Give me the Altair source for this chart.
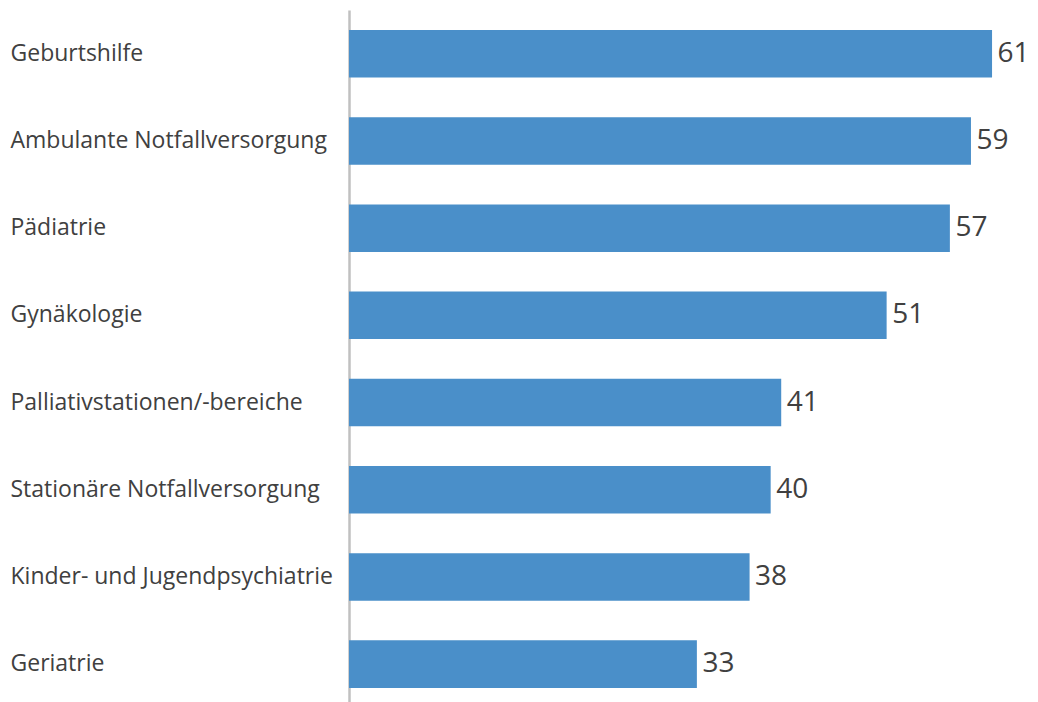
import altair as alt
import pandas as pd

categories = [
    "Geburtshilfe",
    "Ambulante Notfallversorgung",
    "Pädiatrie",
    "Gynäkologie",
    "Palliativstationen/-bereiche",
    "Stationäre Notfallversorgung",
    "Kinder- und Jugendpsychiatrie",
    "Geriatrie",
]
values = [61, 59, 57, 51, 41, 40, 38, 33]

df = pd.DataFrame({"cat": categories, "val": values})

FONT = "Open Sans"
TEXT = "#404040"

y = alt.Y(
    "cat:N",
    sort=categories,
    scale=alt.Scale(paddingInner=0.455, paddingOuter=0.2415, align=0.475),
    axis=alt.Axis(
        title=None,
        ticks=False,
        tickSize=0,
        labelAlign="left",
        labelPadding=339,
        labelFont=FONT,
        labelFontSize=23,
        labelColor=TEXT,
        domainColor="#c0c0c0",
        domainWidth=2.5,
        labelLimit=400,
    ),
)
x = alt.X("val:Q", scale=alt.Scale(domain=[0, 64.6], nice=False), axis=None)

bars = alt.Chart(df).mark_bar(color="#4a8fc9").encode(x=x, y=y)
labels = alt.Chart(df).mark_text(
    align="left", baseline="middle", dx=5.5, font=FONT, fontSize=28, color=TEXT
).encode(x=x, y=y, text="val:Q")

chart = (
    (bars + labels)
    .properties(
        width=681,
        height=700,
        background="white",
        autosize=alt.AutoSizeParams(type="none"),
        padding={"left": 341, "top": 2, "right": 0, "bottom": 0},
    )
    .configure_view(strokeWidth=0, stroke=None)
)

chart.save("out.html", embed_options={"renderer": "svg", "actions": False})
